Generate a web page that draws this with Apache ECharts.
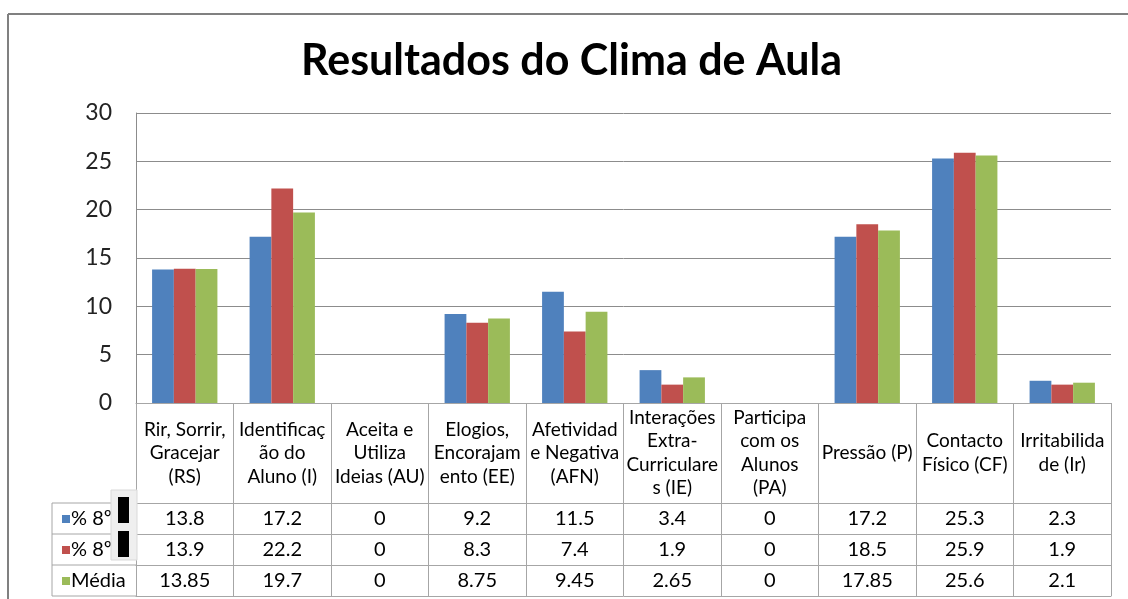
<!DOCTYPE html>
<html>
<head>
<meta charset="utf-8">
<script src="https://cdn.jsdelivr.net/npm/echarts@6/dist/echarts.min.js"></script>
<style>
  html, body { margin: 0; padding: 0; background: #fff; }
  #chart { width: 1128px; height: 599px; }
</style>
</head>
<body>
<div id="chart"></div>
<script>
// categorias (com as quebras de linha da tabela original)
var categories = [
  "Rir, Sorrir,\nGracejar\n(RS)",
  "Identificaç\não do\nAluno (I)",
  "Aceita e\nUtiliza\nIdeias (AU)",
  "Elogios,\nEncorajam\nento (EE)",
  "Afetividad\ne Negativa\n(AFN)",
  "Interações\nExtra-\nCurriculare\ns (IE)",
  "Participa\ncom os\nAlunos\n(PA)",
  "Pressão (P)",
  "Contacto\nFísico (CF)",
  "Irritabilida\nde (Ir)"
];
var seriesNames = ["% 8º A", "% 8º B", "Média"];
var legendLabels = ["% 8º", "% 8º", "Média"];
var turmaA = [13.8, 17.2, 0, 9.2, 11.5, 3.4, 0, 17.2, 25.3, 2.3];
var turmaB = [13.9, 22.2, 0, 8.3, 7.4, 1.9, 0, 18.5, 25.9, 1.9];
var media = [13.85, 19.7, 0, 8.75, 9.45, 2.65, 0, 17.85, 25.6, 2.1];
var yTicks = [0, 5, 10, 15, 20, 25, 30];

var colors = ["#4F81BD", "#C0504D", "#9BBB59"];
var font = "Lato, 'Open Sans', sans-serif";
var lineColor = "#a6a6a6";

var myChart = echarts.init(document.getElementById("chart"));

// linha da tabela de dados: um eixo de categorias deslocado
function tableRow(values, offset, height) {
  return {
    type: "category",
    position: "bottom",
    offset: offset,
    data: values.map(function (v) { return String(v); }),
    axisLine: { lineStyle: { color: lineColor, width: 1 } },
    axisTick: { show: true, length: height, lineStyle: { color: lineColor } },
    axisLabel: {
      interval: 0, margin: height / 2, verticalAlign: "middle",
      color: "#000", fontFamily: font, fontSize: 20
    },
    splitLine: { show: false }
  };
}

var option = {
  animation: false,
  color: colors,
  title: {
    text: "Resultados do Clima de Aula",
    left: 296,
    top: 35,
    textStyle: { fontFamily: font, fontSize: 43, fontWeight: "bold", color: "#000" }
  },
  legend: {
    orient: "vertical",
    left: 62,
    top: 509,
    padding: 0,
    itemWidth: 8,
    itemHeight: 8,
    itemGap: 11,
    icon: "rect",
    data: seriesNames,
    formatter: function (name) { return legendLabels[seriesNames.indexOf(name)]; },
    textStyle: { fontFamily: font, fontSize: 20, lineHeight: 20, color: "#000", padding: [0, 0, 0, -4] }
  },
  grid: { left: 136, right: 17, top: 113, bottom: 196, containLabel: false },
  xAxis: [
    {
      type: "category",
      data: categories,
      axisLine: { lineStyle: { color: lineColor, width: 1 } },
      axisTick: { show: true, length: 100, lineStyle: { color: lineColor } },
      axisLabel: {
        interval: 0, margin: 50, verticalAlign: "middle", lineHeight: 23.5,
        color: "#000", fontFamily: font, fontSize: 19
      }
    },
    tableRow(turmaA, 100, 31),
    tableRow(turmaB, 131, 31),
    tableRow(media, 162, 31),
    {
      type: "category",
      position: "bottom",
      offset: 193,
      data: categories,
      axisLine: { lineStyle: { color: lineColor, width: 1 } },
      axisTick: { show: false },
      axisLabel: { show: false }
    }
  ],
  yAxis: {
    type: "value",
    min: yTicks[0],
    max: yTicks[yTicks.length - 1],
    interval: 5,
    axisLine: { show: true, lineStyle: { color: "#8c8c8c" } },
    axisTick: { show: false },
    axisLabel: { margin: 24, color: "#222", fontFamily: font, fontSize: 23 },
    splitLine: { lineStyle: { color: "#8c8c8c", width: 1 } }
  },
  series: [
    { name: seriesNames[0], type: "bar", data: turmaA, barGap: "0%", barCategoryGap: "33%" },
    { name: seriesNames[1], type: "bar", data: turmaB, barGap: "0%", barCategoryGap: "33%" },
    { name: seriesNames[2], type: "bar", data: media, barGap: "0%", barCategoryGap: "33%" }
  ],
  graphic: [
    // moldura do gráfico
    { type: "line", shape: { x1: 8, y1: 14, x2: 1128, y2: 14 }, style: { stroke: "#808080", lineWidth: 2 } },
    { type: "line", shape: { x1: 8, y1: 14, x2: 8, y2: 599 }, style: { stroke: "#808080", lineWidth: 2 } },
    // coluna da legenda da tabela
    { type: "line", shape: { x1: 52, y1: 503, x2: 136, y2: 503 }, style: { stroke: lineColor, lineWidth: 1 } },
    { type: "line", shape: { x1: 52, y1: 534, x2: 136, y2: 534 }, style: { stroke: lineColor, lineWidth: 1 } },
    { type: "line", shape: { x1: 52, y1: 565, x2: 136, y2: 565 }, style: { stroke: lineColor, lineWidth: 1 } },
    { type: "line", shape: { x1: 52, y1: 596, x2: 136, y2: 596 }, style: { stroke: lineColor, lineWidth: 1 } },
    { type: "line", shape: { x1: 52, y1: 503, x2: 52, y2: 596 }, style: { stroke: lineColor, lineWidth: 1 } },
    // tarjas de anonimização
    { type: "rect", z: 100, shape: { x: 111, y: 490, width: 26, height: 70 }, style: { fill: "#efefef", stroke: "#d9d9d9", lineWidth: 1 } },
    { type: "rect", z: 101, shape: { x: 118, y: 497, width: 11, height: 26 }, style: { fill: "#000" } },
    { type: "rect", z: 101, shape: { x: 118, y: 531, width: 11, height: 26 }, style: { fill: "#000" } }
  ]
};

myChart.setOption(option);
window.addEventListener("resize", function () {
  myChart.resize();
});
</script>
</body>
</html>
